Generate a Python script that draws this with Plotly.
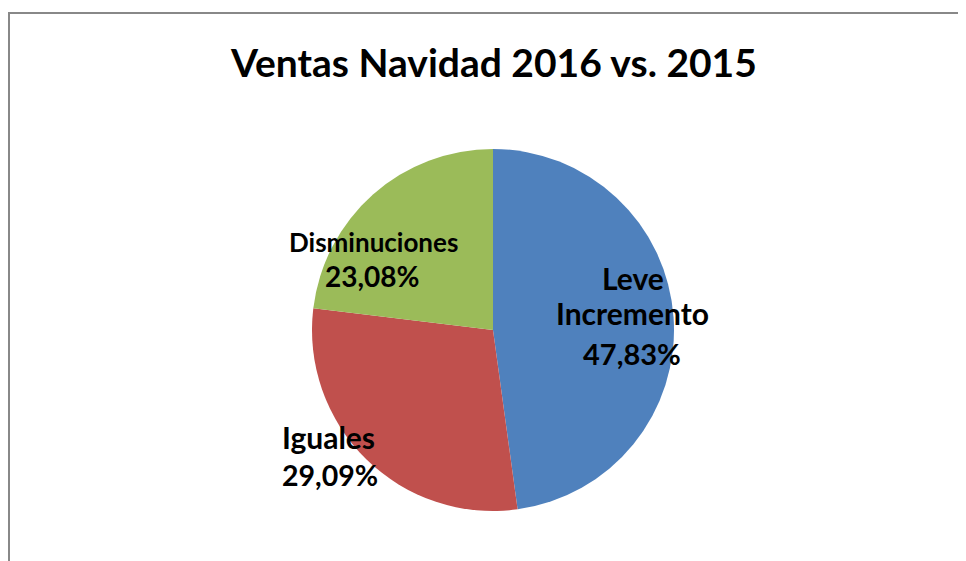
import plotly.graph_objects as go

categories = ["Leve Incremento", "Iguales", "Disminuciones"]
values = [47.83, 29.09, 23.08]
colors = ["#4F81BD", "#C0504D", "#9BBB59"]
title_text = "Ventas Navidad 2016 vs. 2015"

W, H = 966, 561
OFF = 8  # page body margin offset
cx, cy, R = 493 - OFF, 330 - OFF, 181

def fmt(v):
    return f"{v:.2f}".replace(".", ",") + "%"

fig = go.Figure(go.Pie(
    labels=categories,
    values=values,
    sort=False,
    direction="clockwise",
    rotation=0,
    marker=dict(colors=colors, line=dict(width=0)),
    textinfo="none",
    hoverinfo="label+percent",
    showlegend=False,
    domain=dict(x=[(cx - R) / W, (cx + R) / W], y=[1 - (cy + R) / H, 1 - (cy - R) / H]),
))

FONT = "Lato, 'Open Sans', sans-serif"

# label lines: (text, x px, y px, size)
label_lines = [
    ("Leve", 633, 278, 30),
    ("Incremento", 632, 313, 30),
    (fmt(values[0]), 632, 354, 29),
    ("Disminuciones", 373, 242, 26),
    (fmt(values[2]), 372, 276, 28),
    ("Iguales", 328, 437, 30),
    (fmt(values[1]), 330, 475, 28.5),
]
annotations = []
for t, x, y, s in label_lines:
    annotations.append(dict(
        text=f"<b>{t}</b>", x=(x - OFF) / W, y=1 - (y - OFF) / H, xref="paper", yref="paper",
        xanchor="center", yanchor="middle", showarrow=False,
        font=dict(family=FONT, size=s, color="#000000"),
    ))
annotations.append(dict(
    text=f"<b>{title_text}</b>", x=(493 - OFF) / W, y=1 - (62 - OFF) / H, xref="paper", yref="paper",
    xanchor="center", yanchor="middle", showarrow=False,
    font=dict(family=FONT, size=39, color="#000000"),
))

fig.update_layout(
    width=W, height=H,
    margin=dict(l=0, r=0, t=0, b=0),
    paper_bgcolor="#FFFFFF",
    plot_bgcolor="#FFFFFF",
    annotations=annotations,
    shapes=[dict(type="rect", xref="paper", yref="paper",
                 x0=(9 - OFF) / W, x1=1.05, y0=-0.05, y1=1 - (13 - OFF) / H,
                 line=dict(color="#888888", width=2), fillcolor="rgba(0,0,0,0)")],
)

fig.write_html("out.html")
